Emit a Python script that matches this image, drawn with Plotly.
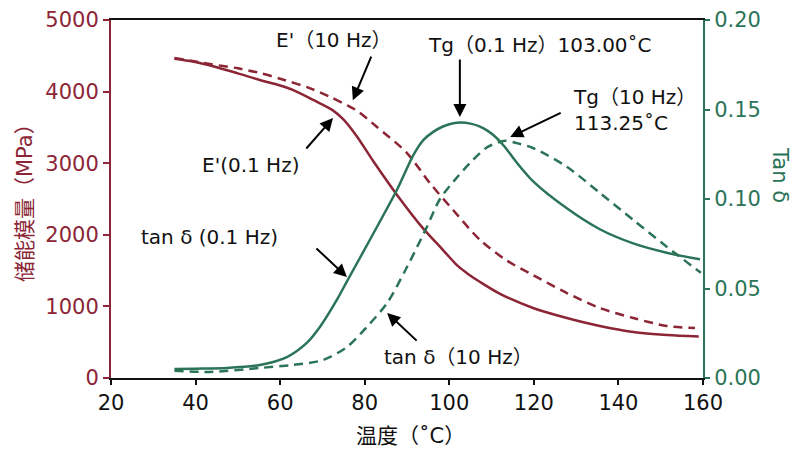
import plotly.graph_objects as go

RED = "#8C2535"
GREEN = "#2B7458"
FONT = "'DejaVu Sans', 'Noto Sans CJK SC', sans-serif"

# E' 0.1 Hz (solid, left axis)
e01_x = [35, 39.4, 45, 50, 55.2, 60, 63, 67.8, 72.3, 74.9, 78.2, 82, 87.6, 93.8, 97.8,
         100, 102, 104.5, 107.3, 112, 119.8, 127.8, 135.6, 143.5, 151.5, 159]
e01_y = [4460, 4420, 4340, 4255, 4162, 4085, 4025, 3885, 3745, 3615, 3370, 3030, 2560,
         2090, 1834, 1690, 1565, 1450, 1340, 1175, 978, 838, 726, 642, 600, 578]

# E' 10 Hz (dashed, left axis)
e10_x = [35, 43.4, 50, 55.2, 60, 67.1, 72, 75.7, 78, 82.9, 90, 95.4, 100.9, 107.3, 113.6,
         119.8, 127.8, 135.6, 143.5, 151.5, 158.1]
e10_y = [4470, 4385, 4325, 4260, 4180, 4046, 3920, 3813, 3740, 3506, 3142, 2723, 2346, 1927,
         1640, 1438, 1187, 978, 838, 726, 698]

# tan delta 0.1 Hz (solid, right axis)
t01_x = [35, 40, 47.4, 55.2, 61.6, 66.3, 69.4, 73.4, 75.8, 81.2, 87.6, 91.5, 93.9, 96.2,
         98.5, 100.7, 102.8, 105, 107, 109, 111, 113, 115.9, 119.9, 127.8, 135.6, 143.5,
         151.4, 159.3]
t01_y = [0.0050, 0.0052, 0.0056, 0.0073, 0.0117, 0.0196, 0.0285, 0.0436, 0.0540, 0.0771,
         0.1050, 0.1245, 0.1330, 0.1375, 0.1405, 0.1422, 0.1427, 0.1421, 0.1407, 0.1382,
         0.1345, 0.1295, 0.1205, 0.1097, 0.0948, 0.0831, 0.0752, 0.0700, 0.0663]

# tan delta 10 Hz (dashed, right axis)
t10_x = [35, 43.4, 55.2, 63, 70.1, 75.8, 80.5, 85.3, 90, 94.7, 97.8, 101.8, 105.6, 109,
         113.25, 116, 119.8, 127.8, 135.6, 143.5, 151.5, 159.5]
t10_y = [0.0040, 0.0034, 0.0056, 0.0073, 0.0100, 0.0173, 0.0285, 0.0419, 0.0620, 0.0844,
         0.1000, 0.1120, 0.1218, 0.1290, 0.1325, 0.1312, 0.1285, 0.1180, 0.1034, 0.0883,
         0.0732, 0.0588]

x_ticks = [20, 40, 60, 80, 100, 120, 140, 160]
y_ticks = [0, 1000, 2000, 3000, 4000, 5000]
y2_ticks = [0.00, 0.05, 0.10, 0.15, 0.20]

SM = 0.8
fig = go.Figure()
fig.add_trace(go.Scatter(x=e01_x, y=e01_y, mode="lines",
                         line=dict(color=RED, width=2.5, shape="spline", smoothing=SM)))
fig.add_trace(go.Scatter(x=e10_x, y=e10_y, mode="lines",
                         line=dict(color=RED, width=2.5, dash="9px,6px", shape="spline", smoothing=SM)))
fig.add_trace(go.Scatter(x=t01_x, y=t01_y, mode="lines", yaxis="y2",
                         line=dict(color=GREEN, width=2.5, shape="spline", smoothing=SM)))
fig.add_trace(go.Scatter(x=t10_x, y=t10_y, mode="lines", yaxis="y2",
                         line=dict(color=GREEN, width=2.5, dash="9px,6px", shape="spline", smoothing=SM)))

# page has an 8px body margin: plot area should sit at page px 111..703 x 20..378
OFF = 8
L, R, T, B = 111, 703, 20, 378
FW, FH = 802 - OFF, 451 - OFF
W = R - L
H = B - T


def px(xp):
    return (xp - L) / W


def py(yp):
    return (B - yp) / H


ann = []
def text(s, xp, yp, anchor="left"):
    ann.append(dict(text=s, xref="paper", yref="paper", x=px(xp), y=py(yp), xanchor=anchor,
                    yanchor="middle", align="left", showarrow=False,
                    font=dict(size=20, color="#111", family=FONT)))


def arrow(xd, yd, yref, ax, ay):
    ann.append(dict(text="", x=xd, y=yd, xref="x", yref=yref, ax=ax, ay=ay, showarrow=True,
                    arrowhead=2, arrowsize=1.3, arrowwidth=2, arrowcolor="#000"))


text("E'（10 Hz）", 333, 40, "center")
arrow(77.2, 3880, "y", 19, -45)
text("Tg（0.1 Hz）103.00˚C", 426, 45)
arrow(102.5, 0.1458, "y2", 0, -59)
text("Tg（10 Hz）<br>113.25˚C", 571, 110)
arrow(114.4, 0.1346, "y2", 52, -25)
text("E'(0.1 Hz)", 200, 165)
arrow(72.5, 3631, "y", -28, 32)
text("tan δ (0.1 Hz)", 139, 237)
arrow(75.8, 0.0564, "y2", -32, -30)
text("tan δ（10 Hz）", 382, 357)
arrow(85.3, 0.0363, "y2", 31, 29)

ann.append(dict(text="Tan δ", xref="paper", yref="paper", x=px(780), y=py(175), textangle=90,
                xanchor="center", yanchor="middle", showarrow=False,
                font=dict(size=21, color=GREEN, family=FONT)))
ann.append(dict(text="储能模量（MPa）", xref="paper", yref="paper", x=px(25), y=py(198), textangle=-90,
                xanchor="center", yanchor="middle", showarrow=False,
                font=dict(size=21, color=RED, family=FONT)))
ann.append(dict(text="温度（˚C）", xref="paper", yref="paper", x=px(410), y=py(436),
                xanchor="center", yanchor="middle", showarrow=False,
                font=dict(size=21, color="#111", family=FONT)))

fig.update_layout(
    width=FW, height=FH,
    margin=dict(l=L - OFF, r=FW - (R - OFF), t=T - OFF, b=FH - (B - OFF)),
    paper_bgcolor="white", plot_bgcolor="white",
    showlegend=False,
    font=dict(family=FONT, size=21, color="#111"),
    annotations=ann,
    xaxis=dict(range=[20, 160], tickvals=x_ticks, showgrid=False, zeroline=False,
               showline=True, linecolor="#111", linewidth=2, mirror=True,
               ticks="outside", ticklen=5, tickwidth=2, tickcolor="#111",
               tickfont=dict(size=21), automargin=False),
    yaxis=dict(range=[0, 5000], tickvals=y_ticks, showgrid=False, zeroline=False,
               showline=True, linecolor=RED, linewidth=2,
               ticks="outside", ticklen=6, tickwidth=2, tickcolor=RED,
               tickfont=dict(size=21, color=RED), automargin=False),
    yaxis2=dict(range=[0, 0.2], tickvals=y2_ticks, tickformat=".2f", overlaying="y", side="right",
                showgrid=False, zeroline=False, showline=True, linecolor=GREEN, linewidth=2,
                ticks="outside", ticklen=5, tickwidth=2, tickcolor=GREEN,
                tickfont=dict(size=21, color=GREEN), automargin=False),
)

fig.write_html("out.html")
